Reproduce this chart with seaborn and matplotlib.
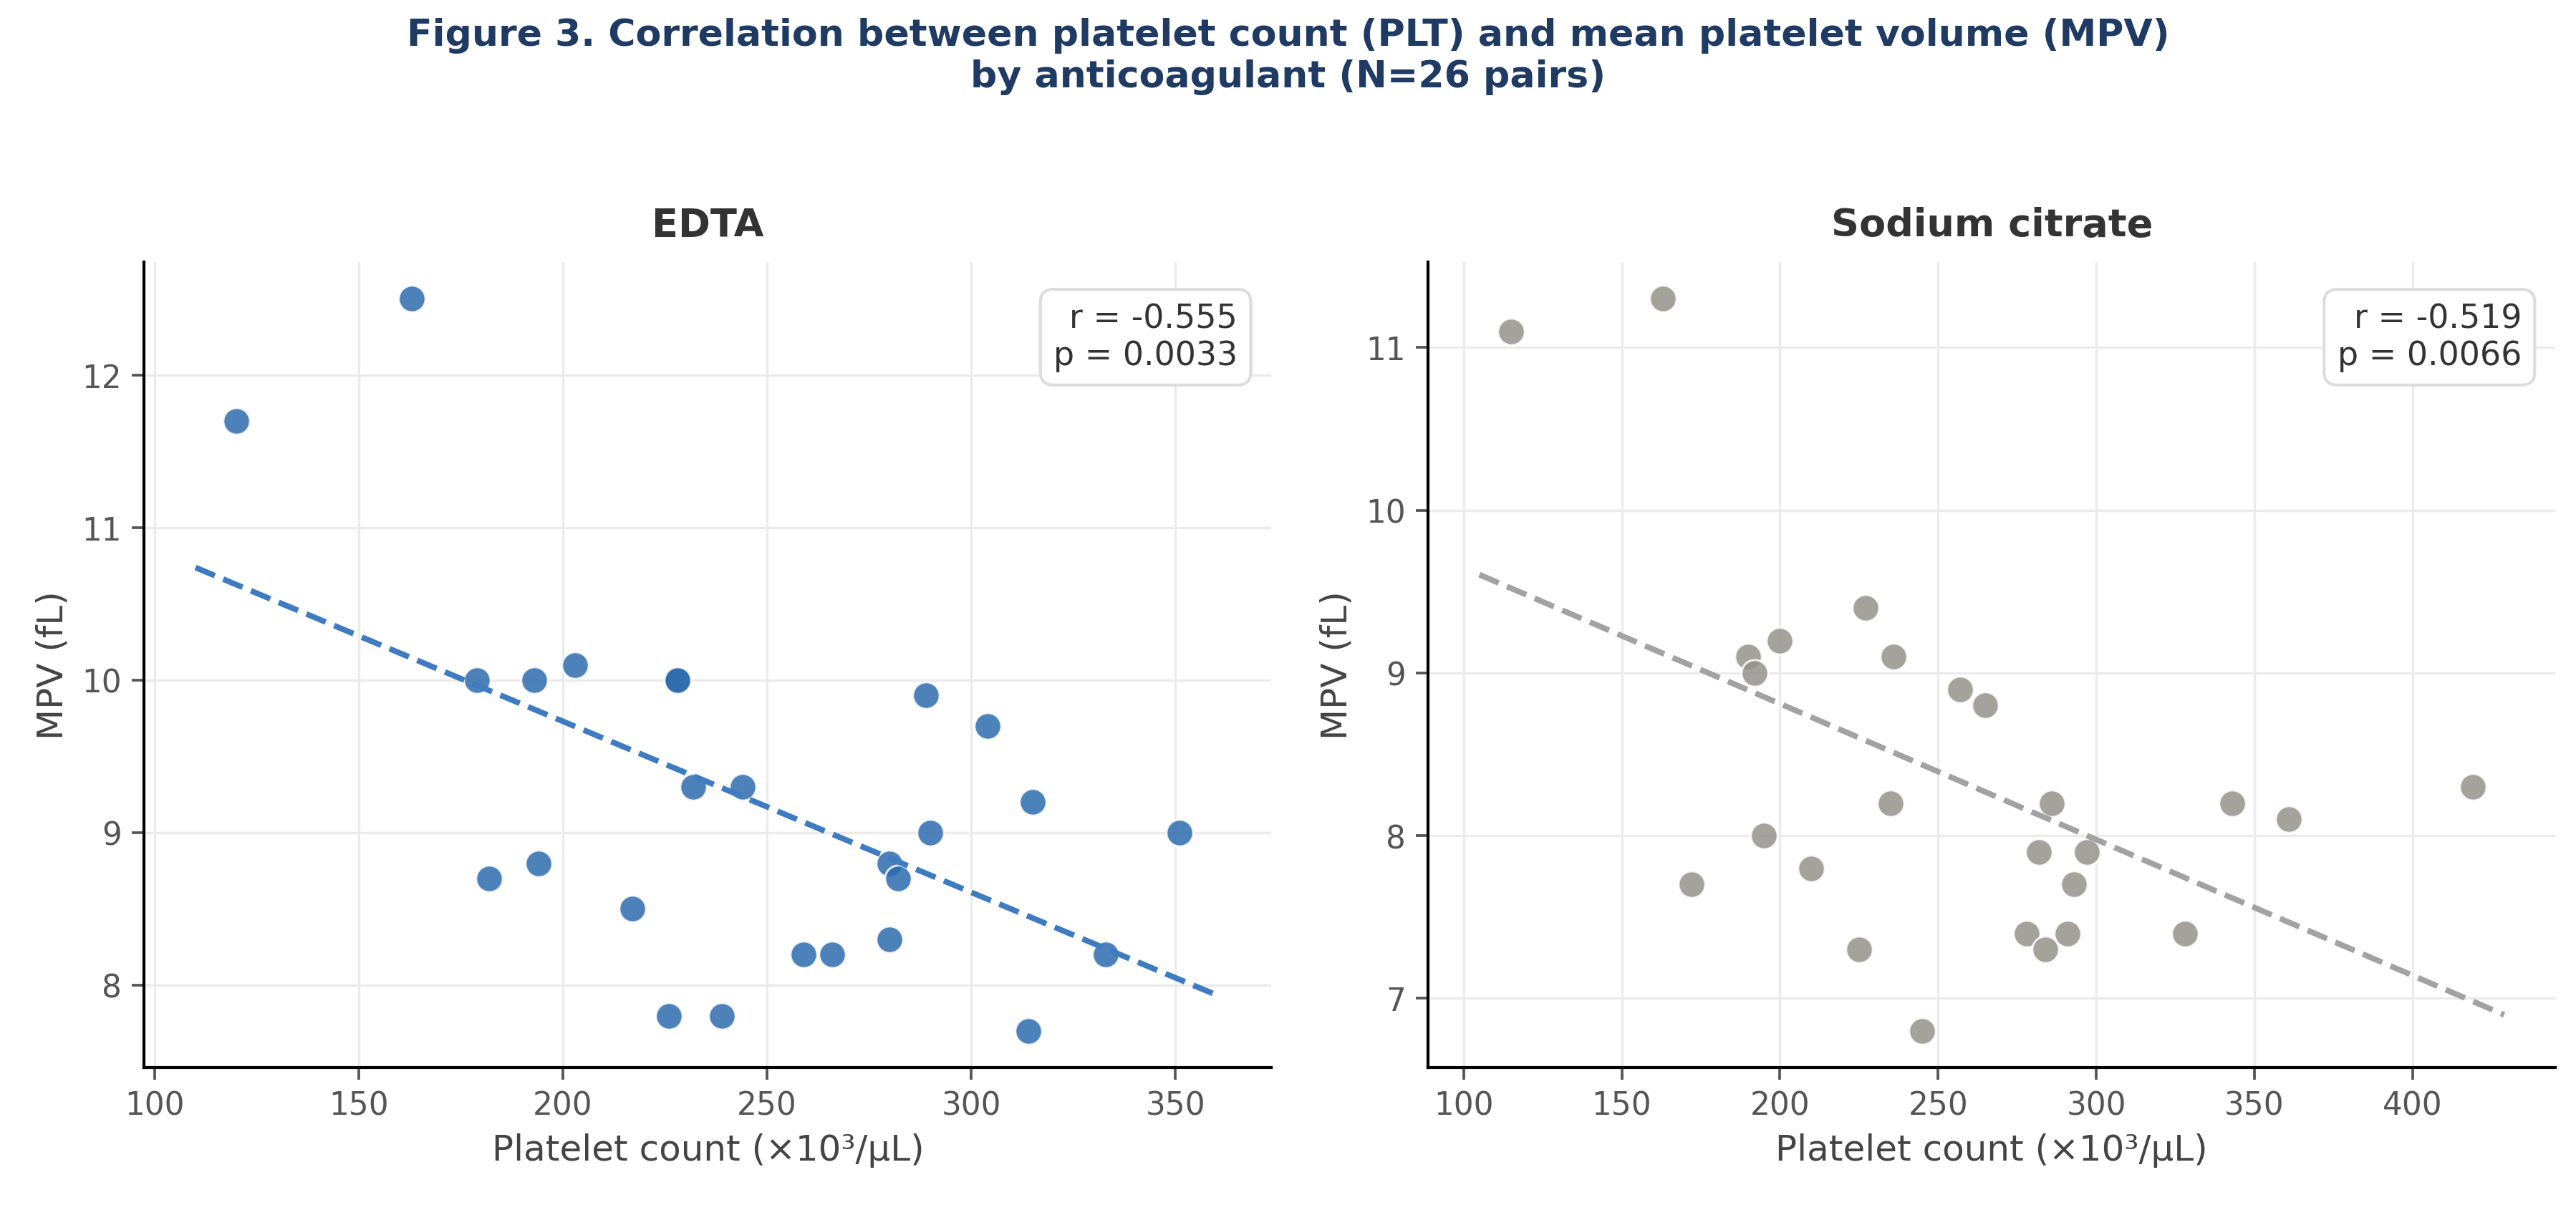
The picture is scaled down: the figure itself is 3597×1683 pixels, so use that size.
import matplotlib
matplotlib.use("Agg")
import matplotlib.pyplot as plt
import seaborn as sns
import numpy as np

# EDTA panel
edta_plt = [120, 163, 179, 193, 203, 228, 228, 289, 304, 232, 244, 315, 290, 351,
            182, 194, 217, 280, 282, 259, 266, 280, 333, 226, 239, 314]
edta_mpv = [11.7, 12.5, 10.0, 10.0, 10.1, 10.0, 10.0, 9.9, 9.7, 9.3, 9.3, 9.2, 9.0, 9.0,
            8.7, 8.8, 8.5, 8.8, 8.7, 8.2, 8.2, 8.3, 8.2, 7.8, 7.8, 7.7]

# Sodium citrate panel
cit_plt = [115, 163, 190, 192, 200, 227, 236, 257, 265, 235, 286, 343, 361, 419,
           195, 210, 172, 282, 297, 293, 278, 291, 284, 328, 225, 245]
cit_mpv = [11.1, 11.3, 9.1, 9.0, 9.2, 9.4, 9.1, 8.9, 8.8, 8.2, 8.2, 8.2, 8.1, 8.3,
           8.0, 7.8, 7.7, 7.9, 7.9, 7.7, 7.4, 7.4, 7.3, 7.4, 7.3, 6.8]

panel_titles = ["EDTA", "Sodium citrate"]
stats_text = ["r = -0.555\np = 0.0033", "r = -0.519\np = 0.0066"]
colors = ["#2D6BAE", "#93928A"]
line_colors = ["#3F7BC0", "#A2A2A2"]

sns.set_theme(style="ticks")
plt.rcParams["font.family"] = ["DejaVu Sans"]

fig, axes = plt.subplots(1, 2, figsize=(11.99, 5.613), dpi=300)
fig.subplots_adjust(left=0.056, right=0.992, bottom=0.114, top=0.782, wspace=0.139)

data = [(edta_plt, edta_mpv), (cit_plt, cit_mpv)]
for i, ax in enumerate(axes):
    x, y = data[i]
    sns.scatterplot(x=x, y=y, ax=ax, s=80, color=colors[i], edgecolor="white",
                    linewidth=0.7, alpha=0.85, zorder=3)
    # fit line spans data range +/- 10
    ax.set_xlim(min(x) - 10, max(x) + 10)
    sns.regplot(x=np.array(x), y=np.array(y), ax=ax, scatter=False, ci=None, truncate=False,
                line_kws=dict(color=line_colors[i], ls="--", lw=1.9, zorder=4))
    ax.lines[-1].sticky_edges.x.clear()
    ax.autoscale(enable=True, axis="x")

    ax.grid(True, color="#EBEBEB", lw=0.8)
    ax.set_axisbelow(True)
    sns.despine(ax=ax)
    for s in ["left", "bottom"]:
        ax.spines[s].set_color("black")
        ax.spines[s].set_linewidth(1.0)
    ax.tick_params(axis="both", labelsize=10.5, colors="#555555", length=4, width=0.9)

    ax.set_title(panel_titles[i], fontsize=13, fontweight="bold", color="#333333", pad=9)
    ax.set_xlabel("Platelet count (×10³/µL)", fontsize=12, color="#444444")
    ax.set_ylabel("MPV (fL)", fontsize=12, color="#444444")

    ax.text(0.97, 0.95, stats_text[i], transform=ax.transAxes, ha="right", va="top",
            fontsize=11, color="#333333", multialignment="right",
            bbox=dict(boxstyle="round,pad=0.4", fc="white", ec="#DDDDDD", lw=1.0))

fig.suptitle("Figure 3. Correlation between platelet count (PLT) and mean platelet volume (MPV)\n"
             "by anticoagulant (N=26 pairs)",
             fontsize=12.5, fontweight="bold", color="#1F3B63", y=0.985, va="top")

fig.savefig("out.png", dpi=300)
